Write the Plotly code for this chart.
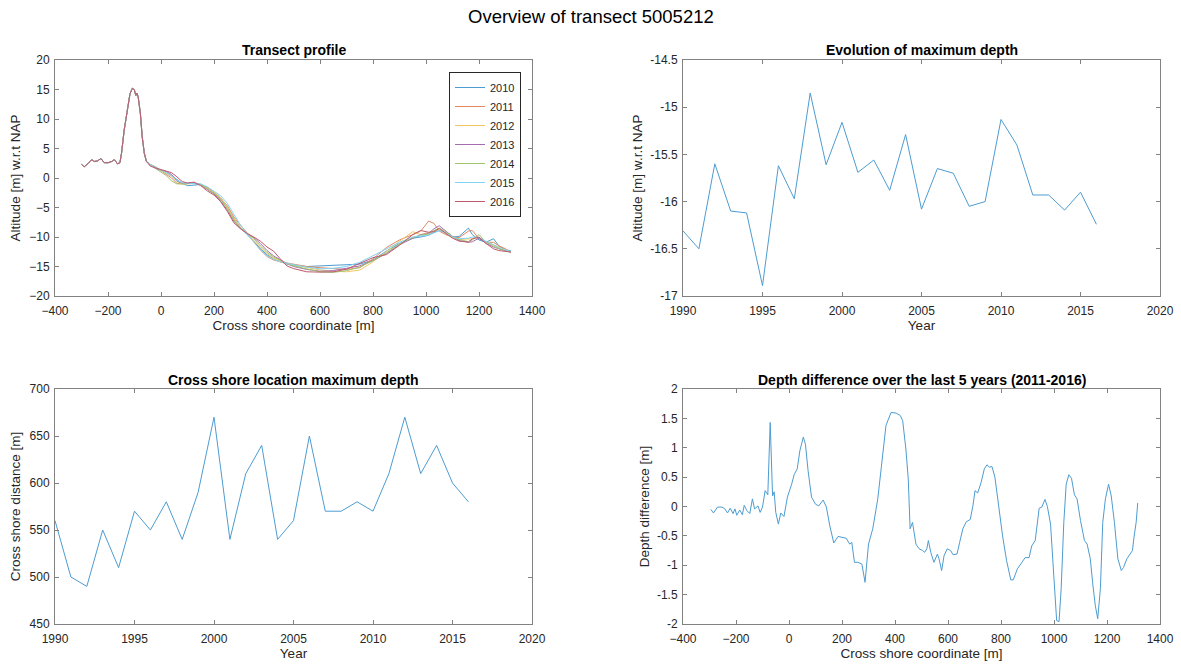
import plotly.graph_objects as go

# ---------------------------------------------------------------- data
years = [1990, 1991, 1992, 1993, 1994, 1995, 1996, 1997, 1998, 1999,
         2000, 2001, 2002, 2003, 2004, 2005, 2006, 2007, 2008, 2009,
         2010, 2011, 2012, 2013, 2014, 2015, 2016]

max_depth = [-16.31, -16.50, -15.60, -16.10, -16.12, -16.89, -15.62, -15.97,
             -14.85, -15.61, -15.16, -15.69, -15.56, -15.88, -15.29, -16.08,
             -15.65, -15.70, -16.05, -16.00, -15.13, -15.40, -15.93, -15.93,
             -16.09, -15.90, -16.24]

max_depth_location = [560, 500, 490, 550, 510, 570, 550, 580, 540, 590,
                      670, 540, 610, 640, 540, 560, 650, 570, 570, 580,
                      570, 610, 670, 610, 640, 600, 580]

# dune part of the transect (identical for all surveyed years)
dune_x = [-300, -290, -274, -262, -252, -239, -227, -214, -199, -186, -176,
          -164, -155, -149, -139, -126, -117, -108, -101, -95, -91, -86,
          -78, -71, -63, -55]
dune_z = [2.3, 1.9, 2.5, 3.1, 2.8, 2.9, 3.3, 2.6, 2.6, 2.8, 3.1,
          2.4, 2.6, 4.2, 8.1, 11.5, 14.3, 15.2, 15.0, 14.0, 14.4, 13.7,
          11.0, 7.0, 4.2, 2.8]

# seaward part of the transect, per survey year
sea_x = [-40, -20, 0, 20, 40, 60, 80, 100, 125, 150, 175, 200, 225, 250,
         275, 300, 325, 350, 375, 400, 425, 450, 475, 500, 550, 600, 650,
         700, 750, 800, 850, 900, 950, 980, 1010, 1030, 1050, 1075, 1100,
         1125, 1160, 1175, 1200, 1225, 1255, 1275, 1300, 1320]

z_2010 = [2.2, 1.7, 1.2, 0.8, 0.4, -0.2, -0.9, -1.3, -1.2, -1.1, -1.7, -2.5,
          -3.6, -4.9, -6.9, -8.4, -9.6, -10.7, -12.0, -13.0, -13.7, -14.2,
          -14.6, -14.8, -15.0, -14.9, -14.8, -14.6, -14.6, -13.9, -12.4,
          -11.1, -10.2, -10.0, -9.7, -9.2, -8.9, -9.3, -10.0, -9.9, -8.5,
          -9.6, -10.5, -10.9, -10.3, -11.5, -12.2, -12.3]
z_2011 = [2.3, 1.9, 1.2, 0.6, 0.0, -0.9, -1.0, -0.9, -0.8, -1.1, -1.6, -2.4,
          -3.4, -4.7, -6.6, -8.0, -9.3, -10.8, -12.2, -13.3, -13.9, -14.2,
          -14.4, -14.6, -15.0, -15.2, -15.4, -15.5, -15.2, -13.7, -11.8,
          -10.5, -9.6, -9.0, -7.3, -7.7, -9.0, -9.6, -10.0, -10.1, -9.0,
          -8.9, -10.3, -10.9, -10.9, -11.5, -12.0, -12.6]
z_2012 = [2.3, 1.8, 1.2, 0.8, 0.3, -0.6, -1.0, -1.0, -0.9, -1.1, -1.7, -2.4,
          -3.3, -4.9, -6.9, -8.4, -9.5, -10.6, -11.7, -12.8, -13.6, -14.2,
          -14.5, -14.7, -15.2, -15.6, -15.8, -15.9, -15.6, -14.2, -12.5,
          -10.7, -9.1, -9.6, -9.2, -8.9, -8.7, -9.4, -10.1, -10.4, -10.3,
          -10.3, -10.1, -10.8, -11.4, -11.8, -12.3, -12.5]
z_2013 = [2.2, 1.6, 1.4, 1.1, 0.6, -0.5, -0.9, -0.9, -0.9, -1.2, -1.9, -2.7,
          -3.9, -5.4, -7.3, -8.6, -9.4, -10.1, -11.1, -12.3, -13.2, -13.9,
          -14.5, -15.0, -15.5, -15.8, -15.7, -15.3, -14.9, -14.0, -12.8,
          -11.3, -10.2, -9.6, -9.4, -8.6, -8.1, -9.0, -9.9, -10.6, -10.9,
          -10.8, -10.2, -11.0, -11.7, -12.0, -12.4, -12.6]
z_2014 = [2.2, 1.6, 1.0, 0.4, -0.5, -1.0, -1.0, -0.9, -0.9, -1.1, -1.8, -2.6,
          -3.6, -5.2, -7.1, -8.5, -9.4, -10.3, -11.5, -12.6, -13.4, -14.0,
          -14.5, -14.9, -15.4, -15.9, -16.0, -15.7, -15.1, -14.0, -12.7,
          -11.2, -10.1, -9.7, -9.5, -8.9, -8.5, -9.1, -9.9, -10.4, -10.8,
          -10.5, -9.6, -10.8, -11.6, -12.0, -12.4, -12.5]
z_2015 = [2.3, 1.8, 1.3, 0.9, 0.4, -0.4, -0.8, -0.9, -0.9, -1.0, -1.5, -2.2,
          -3.0, -4.3, -6.2, -8.0, -9.5, -10.9, -12.2, -13.2, -13.8, -14.2,
          -14.5, -14.7, -15.1, -15.4, -15.3, -15.0, -14.3, -13.2, -12.1,
          -10.9, -10.0, -9.8, -9.7, -9.3, -8.9, -9.3, -10.0, -10.3, -10.2,
          -10.0, -10.1, -10.7, -11.3, -11.8, -12.2, -12.4]
z_2016 = [2.0, 1.7, 1.4, 1.15, 0.9, 0.2, -0.6, -0.85, -0.7, -1.3, -2.2, -2.9,
          -4.0, -5.65, -7.6, -8.6, -9.4, -10.0, -10.7, -11.7, -12.4, -13.7,
          -14.9, -15.35, -15.9, -15.95, -15.9, -15.45, -14.5, -13.5, -13.0,
          -11.4, -9.6, -8.9, -9.2, -9.1, -8.55, -9.35, -10.2, -10.7, -10.85,
          -10.3, -10.0, -11.05, -12.0, -12.3, -12.5, -12.55]

profile_years = ['2010', '2011', '2012', '2013', '2014', '2015', '2016']
profiles = [z_2010, z_2011, z_2012, z_2013, z_2014, z_2015, z_2016]

# depth change 2011 -> 2016 along the transect
diff_x = [-295, -285, -270, -253, -242, -232, -222, -211, -204, -197, -186,
          -176, -169, -159, -148, -138, -130, -117, -109, -100, -90, -80,
          -71, -62, -56, -50, -40, -31, -19, -6, 10, 20, 31, 41, 54, 62, 72,
          85, 100, 112, 129, 141, 154, 169, 185, 200, 216, 229, 237, 247,
          260, 275, 287, 300, 316, 335, 351, 366, 385, 404, 420, 429, 441,
          450, 457, 466, 479, 491, 504, 512, 520, 526, 535, 547, 560, 566,
          576, 585, 597, 610, 619, 634, 644, 656, 669, 684, 694, 702, 712,
          725, 737, 747, 756, 766, 777, 790, 806, 821, 837, 846, 862, 879,
          891, 906, 916, 929, 944, 954, 966, 975, 987, 996, 1004, 1010,
          1019, 1027, 1037, 1046, 1056, 1066, 1077, 1087, 1100, 1115, 1125,
          1137, 1147, 1156, 1165, 1175, 1184, 1194, 1206, 1216, 1228, 1241,
          1254, 1262, 1275, 1290, 1296, 1302, 1310, 1316]
diff_val = [-0.05, -0.11, -0.01, -0.01, -0.04, -0.11, -0.03, -0.12, -0.04,
            -0.15, -0.06, -0.14, 0.02, -0.07, -0.12, 0.13, -0.04, 0.01,
            -0.10, -0.01, 0.27, 0.20, 1.43, 0.18, 0.25, -0.10, -0.30, -0.11,
            -0.17, 0.16, 0.38, 0.55, 0.64, 0.95, 1.18, 1.06, 0.61, 0.16,
            0.04, 0.01, 0.11, -0.01, -0.33, -0.62, -0.51, -0.52, -0.54,
            -0.64, -0.61, -0.95, -0.95, -0.98, -1.29, -0.64, -0.38, 0.13,
            0.81, 1.38, 1.60, 1.59, 1.55, 1.46, 0.98, 0.47, -0.38, -0.27,
            -0.64, -0.72, -0.75, -0.78, -0.72, -0.58, -0.78, -0.95, -0.81,
            -0.89, -1.09, -0.84, -0.72, -0.75, -0.82, -0.81, -0.61, -0.38,
            -0.26, -0.22, 0.01, 0.27, 0.23, 0.41, 0.64, 0.71, 0.67, 0.68,
            0.50, 0.01, -0.50, -0.92, -1.25, -1.25, -1.06, -0.95, -0.87,
            -0.87, -0.67, -0.58, -0.03, -0.01, 0.12, 0.00, -0.30, -0.95,
            -1.63, -1.94, -1.96, -1.40, -0.27, 0.38, 0.54, 0.48, 0.20, 0.13,
            -0.24, -0.58, -0.64, -0.89, -1.35, -1.69, -1.91, -1.40, -0.27,
            0.13, 0.38, 0.18, -0.27, -0.89, -1.09, -1.04, -0.89, -0.78,
            -0.75, -0.52, -0.27, 0.06]

# ---------------------------------------------------------------- styling
W, H = 1181, 666
# plot area in pixels (outer edges of the 2x2 grid of axes)
L, R, T, B = 55, 1160, 60, 624
# MATLAB default line colours, softened towards white
colors = ['#4D9CD1', '#E4875E', '#F2C863', '#A56DB0', '#A0C56E', '#82D2F3', '#BE5A6D']
AX = 'rgb(130,130,130)'
TXT = '#262626'
FONT = 'Liberation Sans, Arial, Helvetica, sans-serif'
TICK_SIZE = 12
LABEL_SIZE = 13.5


def px_x(p):
    return (p - L) / (R - L)


def px_y(p):
    return (B - p) / (B - T)


left_dom = [px_x(55), px_x(532)]
right_dom = [px_x(683), px_x(1160)]
top_dom = [px_y(296), px_y(60)]
bot_dom = [px_y(624), px_y(389)]

fig = go.Figure()

for name, z, c in zip(profile_years, profiles, colors):
    fig.add_trace(go.Scatter(x=dune_x + sea_x, y=dune_z + z, mode='lines', name=name,
                             line=dict(color=c, width=1),
                             xaxis='x', yaxis='y'))

fig.add_trace(go.Scatter(x=years, y=max_depth, mode='lines', showlegend=False,
                         line=dict(color=colors[0], width=1),
                         xaxis='x2', yaxis='y2'))
fig.add_trace(go.Scatter(x=years, y=max_depth_location, mode='lines', showlegend=False,
                         line=dict(color=colors[0], width=1),
                         xaxis='x3', yaxis='y3'))
fig.add_trace(go.Scatter(x=diff_x, y=diff_val, mode='lines', showlegend=False,
                         line=dict(color=colors[0], width=1),
                         xaxis='x4', yaxis='y4'))


def axis(domain, rng, dtick, title, anchor, standoff, is_x, tickvals=None, ticktext=None):
    d = dict(domain=domain, range=rng, dtick=dtick, tick0=rng[0], anchor=anchor,
             automargin=False,
             showgrid=False, zeroline=False, showline=True, linecolor=AX, linewidth=1,
             mirror='ticks', ticks='inside', ticklen=4, tickcolor=AX, tickwidth=1,
             ticklabelstandoff=4 if is_x else 2,
             tickfont=dict(size=TICK_SIZE, color=TXT, family=FONT),
             title=dict(text=title, font=dict(size=LABEL_SIZE, color=TXT, family=FONT),
                        standoff=standoff))
    if tickvals is not None:
        d.update(tickmode='array', tickvals=tickvals, ticktext=ticktext)
    return d


fig.update_layout(
    width=W, height=H,
    margin=dict(l=L, r=W - R, t=T, b=H - B, autoexpand=False),
    paper_bgcolor='white', plot_bgcolor='white',
    font=dict(family=FONT, color=TXT),
    xaxis=axis(left_dom, [-400, 1400], 200, 'Cross shore coordinate [m]', 'y', 3, True),
    yaxis=axis(top_dom, [-20, 20], 5, 'Altitude [m] w.r.t NAP', 'x', 5, False),
    xaxis2=axis(right_dom, [1990, 2020], 5, 'Year', 'y2', 3, True),
    yaxis2=axis(top_dom, [-17, -14.5], 0.5, 'Altitude [m] w.r.t NAP', 'x2', 4, False,
                tickvals=[-17, -16.5, -16, -15.5, -15, -14.5],
                ticktext=['-17', '-16.5', '-16', '-15.5', '-15', '-14.5']),
    xaxis3=axis(left_dom, [1990, 2020], 5, 'Year', 'y3', 3, True),
    yaxis3=axis(bot_dom, [450, 700], 50, 'Cross shore distance [m]', 'x3', 5, False),
    xaxis4=axis(right_dom, [-400, 1400], 200, 'Cross shore coordinate [m]', 'y4', 3, True),
    yaxis4=axis(bot_dom, [-2, 2], 0.5, 'Depth difference [m]', 'x4', 4, False,
                tickvals=[-2, -1.5, -1, -0.5, 0, 0.5, 1, 1.5, 2],
                ticktext=['-2', '-1.5', '-1', '-0.5', '0', '0.5', '1', '1.5', '2']),
    legend=dict(x=px_x(521), y=px_y(72), xanchor='right', yanchor='top',
                bordercolor='rgb(40,40,40)', borderwidth=1, bgcolor='white',
                font=dict(size=11, color=TXT, family=FONT),
                itemwidth=30, tracegroupgap=0),
    showlegend=True,
)

titles = [
    ('Transect profile', (left_dom[0] + left_dom[1]) / 2, px_y(50)),
    ('Evolution of maximum depth', (right_dom[0] + right_dom[1]) / 2, px_y(50)),
    ('Cross shore location maximum depth', (left_dom[0] + left_dom[1]) / 2, px_y(380)),
    ('Depth difference over the last 5 years (2011-2016)', (right_dom[0] + right_dom[1]) / 2, px_y(380)),
]
for text, x, y in titles:
    fig.add_annotation(text='<b>%s</b>' % text, x=x, y=y, xref='paper', yref='paper',
                       xanchor='center', yanchor='middle', showarrow=False,
                       font=dict(size=14, color='black', family=FONT))

fig.add_annotation(text='Overview of transect 5005212', x=px_x(W / 2), y=px_y(17),
                   xref='paper', yref='paper', xanchor='center', yanchor='middle',
                   showarrow=False, font=dict(size=18.5, color='black', family=FONT))

fig.write_html('out.html')
